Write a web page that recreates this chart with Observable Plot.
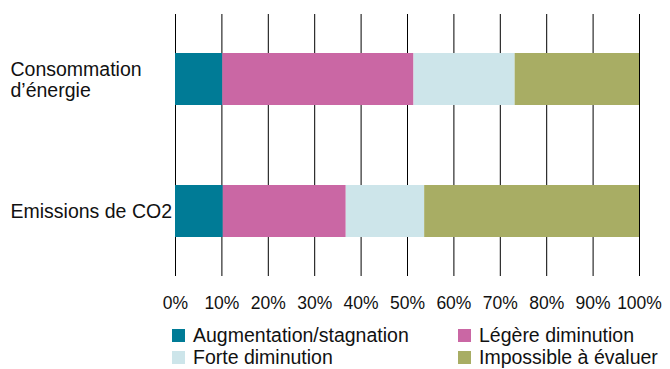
<!DOCTYPE html>
<html>
<head>
<meta charset="utf-8">
<script src="https://cdn.jsdelivr.net/npm/d3@7"></script>
<script src="https://cdn.jsdelivr.net/npm/@observablehq/plot@0.6"></script>
<style>
  html, body { margin: 0; padding: 0; background: #fff; }
  body { width: 670px; height: 369px; overflow: hidden; font-family: "Liberation Sans", Arial, sans-serif; }
  #legend { display: grid; grid-template-columns: 286px 210px; margin-left: 172px; font-size: 19.5px; line-height: 22px; color: #111; }
  #legend .item { display: flex; align-items: center; height: 22px; white-space: nowrap; }
  #legend .sw { width: 13px; height: 13px; margin-right: 8px; flex: none; }
</style>
</head>
<body>
<div id="chart"></div>
<div id="legend"></div>
<script>
const categories = ["Consommation d’énergie", "Emissions de CO2"];
const categoryLabels = ["Consommation\nd’énergie", "Emissions de CO2"];
const series = ["Augmentation/stagnation", "Légère diminution", "Forte diminution", "Impossible à évaluer"];
const consommation = [10.2, 41.2, 21.8, 26.8];
const emissions = [10.3, 26.5, 16.9, 46.3];
const colors = ["#007B96", "#CA67A4", "#CDE5EA", "#A8AD64"];
const xTicks = [0, 10, 20, 30, 40, 50, 60, 70, 80, 90, 100];

const values = [consommation, emissions];
const data = [];
categories.forEach((c, i) => series.forEach((s, j) => data.push({category: c, series: s, value: values[i][j]})));

const plot = Plot.plot({
  width: 670,
  height: 324,
  marginLeft: 175,
  marginRight: 31,
  marginTop: 14,
  marginBottom: 48,
  style: {fontFamily: '"Liberation Sans", Arial, sans-serif', fontSize: "18px", color: "#111", background: "#fff"},
  x: {domain: [0, 100]},
  y: {domain: categories, paddingInner: 0.606, paddingOuter: 0.295},
  color: {domain: series, range: colors},
  marks: [
    Plot.gridX(xTicks, {stroke: "#000", strokeOpacity: 1, strokeWidth: 1}),
    Plot.barX(data, Plot.stackX({x: "value", y: "category", fill: "series", order: series})),
    Plot.axisX(xTicks, {tickSize: 0, tickPadding: 20, tickFormat: d => d + "%", fontSize: 17.5, label: null}),
    Plot.axisY({tickSize: 0, tickPadding: 165, textAnchor: "start", tickFormat: d => categoryLabels[categories.indexOf(d)], fontSize: 19.5, label: null, lineAnchor: "middle", lineHeight: 1.1})
  ]
});
document.getElementById("chart").appendChild(plot);

const legend = document.getElementById("legend");
series.forEach((s, i) => {
  const item = document.createElement("div");
  item.className = "item";
  const sw = document.createElement("span");
  sw.className = "sw";
  sw.style.background = colors[i];
  const t = document.createElement("span");
  t.textContent = s;
  item.appendChild(sw);
  item.appendChild(t);
  legend.appendChild(item);
});
</script>
</body>
</html>
